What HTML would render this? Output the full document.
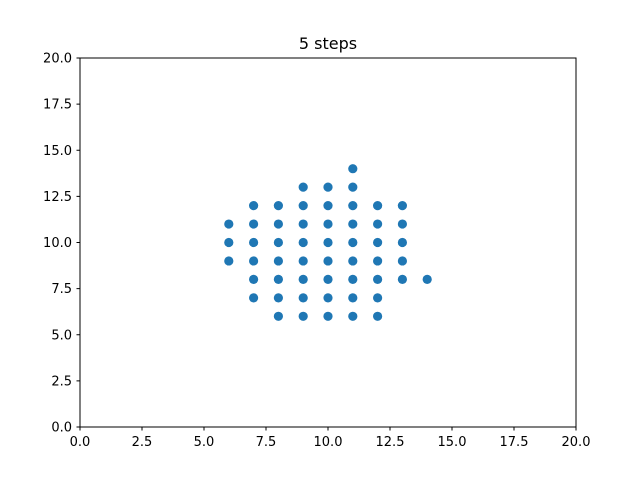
<!DOCTYPE html>
<html><head><meta charset="utf-8"><style>body{margin:0;background:#fff}svg{display:block;font-family:"DejaVu Sans","Liberation Sans",sans-serif}</style></head>
<body>
<svg id="chart" width="640" height="480">
<rect width="640" height="480" fill="#fff"/>
<text x="328" y="49" font-size="16" text-anchor="middle">5 steps</text>
<g id="marks"></g>
<rect x="80" y="58" width="496" height="369" fill="none" stroke="#000" stroke-width="1"/>
<g id="ticks" font-size="13"></g>
</svg>
<script>
const xs = [6,6,6, 7,7,7,7,7,7, 8,8,8,8,8,8,8, 9,9,9,9,9,9,9,9, 10,10,10,10,10,10,10,10, 11,11,11,11,11,11,11,11,11, 12,12,12,12,12,12,12, 13,13,13,13,13, 14];
const ys = [11,10,9, 12,11,10,9,8,7, 12,11,10,9,8,7,6, 13,12,11,10,9,8,7,6, 13,12,11,10,9,8,7,6, 14,13,12,11,10,9,8,7,6, 12,11,10,9,8,7,6, 12,11,10,9,8, 8];
const xTicks = [0,2.5,5,7.5,10,12.5,15,17.5,20];
const yTicks = [0,2.5,5,7.5,10,12.5,15,17.5,20];
const xTickLabels = ["0.0","2.5","5.0","7.5","10.0","12.5","15.0","17.5","20.0"];
const yTickLabels = ["0.0","2.5","5.0","7.5","10.0","12.5","15.0","17.5","20.0"];
const NS="http://www.w3.org/2000/svg";
const X=v=>80+v/20*496, Y=v=>427-v/20*369;
const marks=document.getElementById('marks');
for(let i=0;i<xs.length;i++){
  const c=document.createElementNS(NS,'circle');
  c.setAttribute('cx',X(xs[i]));c.setAttribute('cy',Y(ys[i]));c.setAttribute('r',4.6);c.setAttribute('fill','#1f77b4');
  
  
  marks.appendChild(c);
}
const tg=document.getElementById('ticks');
xTicks.forEach((t,i)=>{
  const l=document.createElementNS(NS,'line');
  l.setAttribute('x1',X(t));l.setAttribute('x2',X(t));l.setAttribute('y1',427);l.setAttribute('y2',430.5);l.setAttribute('stroke','#000');
  
  
  tg.appendChild(l);
  const s=document.createElementNS(NS,'text');
  s.setAttribute('x',X(t));s.setAttribute('y',446);s.setAttribute('text-anchor','middle');s.textContent=xTickLabels[i];
  
  
  tg.appendChild(s);
});
yTicks.forEach((t,i)=>{
  const l=document.createElementNS(NS,'line');
  l.setAttribute('x1',76.5);l.setAttribute('x2',80);l.setAttribute('y1',Y(t));l.setAttribute('y2',Y(t));l.setAttribute('stroke','#000');
  
  
  tg.appendChild(l);
  const s=document.createElementNS(NS,'text');
  s.setAttribute('x',72);s.setAttribute('y',Y(t)+4.5);s.setAttribute('text-anchor','end');s.textContent=yTickLabels[i];
  
  
  tg.appendChild(s);
});
</script>
</body></html>
